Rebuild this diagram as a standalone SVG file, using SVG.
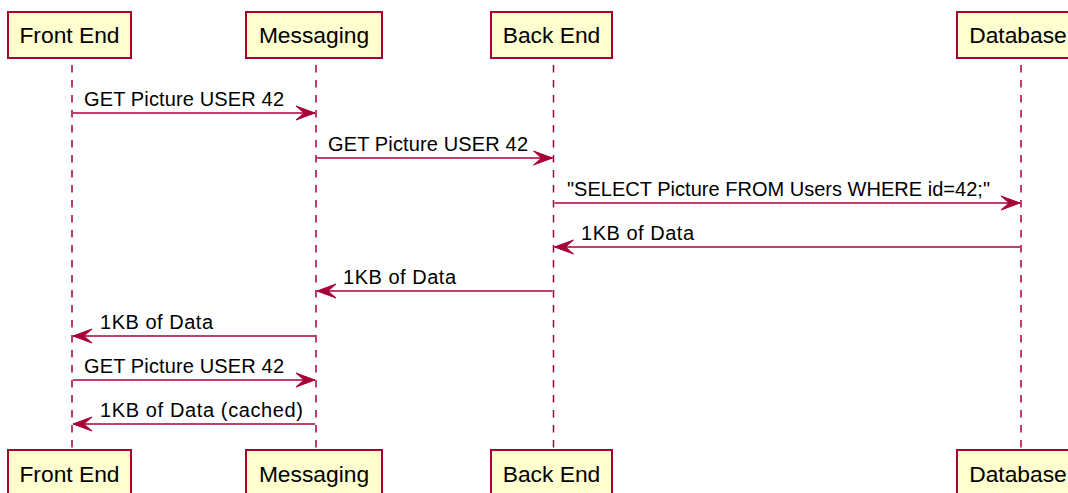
<svg xmlns="http://www.w3.org/2000/svg" width="1068" height="493" viewBox="0 0 1068 493">
<defs>
<style>
.box{fill:#FEFECE;stroke:#A80036;stroke-width:2}
.pt{font-family:"Liberation Sans",Arial,sans-serif;font-size:22.8px;fill:#000;text-anchor:middle}
.life{stroke:#A80036;stroke-width:1.5;stroke-dasharray:7.5,7.5;fill:none}
.msg{stroke:#A80036;stroke-width:1.5;fill:none}
.mt{font-family:"Liberation Sans",Arial,sans-serif;font-size:20px;fill:#000}
</style>
<marker id="ah" markerUnits="userSpaceOnUse" viewBox="-21 -8 22 16" refX="0" refY="0" markerWidth="22" markerHeight="16" orient="auto">
<polygon points="-19,-7 0,0 -19,7 -11,0" fill="#A80036" stroke="#A80036" stroke-width="1" stroke-linejoin="miter"/>
</marker>
</defs>
<rect width="1068" height="493" fill="#FFFFFF"/>
<g id="lifelines">
<line class="life" x1="72" y1="65" x2="72" y2="450"/>
<line class="life" x1="316" y1="65" x2="316" y2="450"/>
<line class="life" x1="553.5" y1="65" x2="553.5" y2="450"/>
<line class="life" x1="1021" y1="65" x2="1021" y2="450"/>
</g>
<g id="front-end">
<rect class="box" x="8" y="12" width="123" height="46"/>
<text class="pt" x="69.5" y="43">Front End</text>
<rect class="box" x="8" y="450" width="123" height="46"/>
<text class="pt" x="69.5" y="481.5">Front End</text>
</g>
<g id="messaging">
<rect class="box" x="246" y="12" width="136" height="46"/>
<text class="pt" x="314" y="43">Messaging</text>
<rect class="box" x="246" y="450" width="136" height="46"/>
<text class="pt" x="314" y="481.5">Messaging</text>
</g>
<g id="back-end">
<rect class="box" x="491" y="12" width="121" height="46"/>
<text class="pt" x="551.5" y="43">Back End</text>
<rect class="box" x="491" y="450" width="121" height="46"/>
<text class="pt" x="551.5" y="481.5">Back End</text>
</g>
<g id="database">
<rect class="box" x="957" y="12" width="124" height="46"/>
<text class="pt" x="1018" y="43">Database</text>
<rect class="box" x="957" y="450" width="124" height="46"/>
<text class="pt" x="1018" y="481.5">Database</text>
</g>
<g id="connectors">
<line class="msg" x1="73" y1="113" x2="315" y2="113" marker-end="url(#ah)"/>
<text class="mt" x="84" y="106" textLength="200">GET Picture USER 42</text>
<line class="msg" x1="317" y1="158" x2="552.5" y2="158" marker-end="url(#ah)"/>
<text class="mt" x="328" y="151" textLength="200">GET Picture USER 42</text>
<line class="msg" x1="554.5" y1="203" x2="1020" y2="203" marker-end="url(#ah)"/>
<text class="mt" x="567" y="196" textLength="423">"SELECT Picture FROM Users WHERE id=42;"</text>
<line class="msg" x1="1020" y1="247" x2="554.5" y2="247" marker-end="url(#ah)"/>
<text class="mt" x="581" y="240" textLength="113">1KB of Data</text>
<line class="msg" x1="552.5" y1="291" x2="317" y2="291" marker-end="url(#ah)"/>
<text class="mt" x="343" y="284" textLength="113">1KB of Data</text>
<line class="msg" x1="315" y1="336" x2="73" y2="336" marker-end="url(#ah)"/>
<text class="mt" x="100" y="328.5" textLength="113">1KB of Data</text>
<line class="msg" x1="73" y1="380" x2="315" y2="380" marker-end="url(#ah)"/>
<text class="mt" x="84" y="373" textLength="200">GET Picture USER 42</text>
<line class="msg" x1="315" y1="424" x2="73" y2="424" marker-end="url(#ah)"/>
<text class="mt" x="100" y="417" textLength="203">1KB of Data (cached)</text>
</g>
</svg>
